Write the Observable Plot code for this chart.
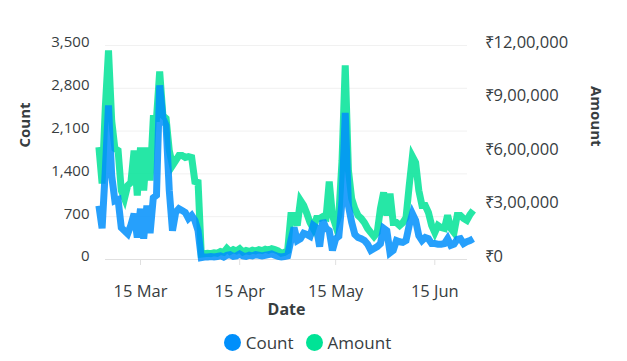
<!DOCTYPE html>
<html><head><meta charset="utf-8">
<script src="https://cdn.jsdelivr.net/npm/d3@7"></script>
<script src="https://cdn.jsdelivr.net/npm/@observablehq/plot@0.6"></script>
<style>
body{margin:0;background:#fff;font-family:"Open Sans",sans-serif;}
#legend{display:flex;justify-content:center;align-items:center;height:34px;font-size:17px;color:#373d3f;padding-right:12px;}
.item{display:flex;align-items:center;margin:0 6px;}
.dot{width:17px;height:17px;border-radius:50%;margin-right:5px;}
</style></head><body>
<div id="chart"></div>
<div id="legend"></div>
<script>
const startDate = "2020-03-02";
const countValues = [
  880, 510, 1460, 2520, 1370, 960, 980, 520, 470, 420,
  560, 750, 360, 830, 340, 880, 430, 1010, 1050, 2850,
  2310, 2190, 1130, 470, 770, 830, 800, 770, 670, 720,
  640, 470, 30, 40, 40, 50, 40, 50, 60, 40,
  70, 80, 50, 60, 90, 60, 50, 70, 60, 80,
  70, 60, 70, 80, 90, 70, 50, 40, 50, 60,
  310, 520, 310, 340, 430, 410, 380, 560, 520, 210,
  640, 510, 470, 150, 340, 380, 960, 2400, 880, 610,
  410, 360, 340, 310, 250, 150, 180, 210, 260, 510,
  470, 110, 150, 310, 290, 280, 310, 560, 750, 640,
  390, 310, 360, 340, 260, 260, 250, 250, 260, 340,
  230, 250, 330, 340, 260, 290, 310, 340
];
const amountValues = [
  630000, 426000, 852000, 1172000, 779000, 622000, 611000, 387000, 342000, 415000,
  432000, 611000, 359000, 628000, 387000, 628000, 443000, 791000, 791000, 1054000,
  807000, 791000, 611000, 527000, 555000, 583000, 583000, 572000, 577000, 572000,
  437000, 432000, 30000, 32000, 35000, 33000, 38000, 35000, 45000, 40000,
  62000, 45000, 55000, 48000, 60000, 42000, 50000, 45000, 52000, 48000,
  55000, 50000, 58000, 52000, 60000, 55000, 48000, 35000, 40000, 50000,
  247000, 247000, 191000, 331000, 303000, 258000, 207000, 174000, 230000, 230000,
  241000, 235000, 437000, 247000, 191000, 247000, 555000, 1088000, 499000, 342000,
  286000, 247000, 230000, 207000, 174000, 151000, 129000, 151000, 286000, 376000,
  247000, 370000, 207000, 207000, 191000, 207000, 235000, 415000, 578000, 544000,
  387000, 303000, 303000, 264000, 191000, 151000, 191000, 179000, 174000, 247000,
  174000, 151000, 247000, 247000, 230000, 219000, 252000, 275000
];
const countTicks = [0, 700, 1400, 2100, 2800, 3500];
const amountTicks = [0, 300000, 600000, 900000, 1200000];
const xTickDates = ["2020-03-15", "2020-04-15", "2020-05-15", "2020-06-15"];
const seriesNames = ["Count", "Amount"];
const seriesColors = ["#008FFB", "#00E396"];

const countMax = 3500, amountMax = 1200000;
const k = countMax / amountMax;

function indian(n) {
  const s = String(n);
  if (s.length <= 3) return s;
  const last3 = s.slice(-3);
  const rest = s.slice(0, -3).replace(/\B(?=(\d{2})+(?!\d))/g, ",");
  return rest + "," + last3;
}

const data = countValues.map((c, i) => ({
  date: d3.utcDay.offset(new Date(startDate), i),
  count: c,
  amount: amountValues[i]
}));

const W = 627, H = 325, baseY = 259;
const textColor = "#373d3f";

const chart = Plot.plot({
  width: W, height: H,
  marginLeft: 105, marginRight: 160, marginTop: 45, marginBottom: H - baseY,
  x: {type: "utc", domain: [data[0].date, data[data.length - 1].date], insetLeft: -6.6, insetRight: -5.7},
  y: {domain: [0, countMax]},
  style: {fontFamily: "'Open Sans', sans-serif", fontSize: "15px", color: textColor, background: "#fff"},
  marks: [
    Plot.gridY(countTicks.slice(1), {stroke: "#f1f1f1", strokeOpacity: 1}),
    Plot.ruleY([0], {stroke: "#e0e0e0"}),
    Plot.axisX(xTickDates.map(d => new Date(d)), {
      tickSize: 6, tickPadding: 20, stroke: "#e0e0e0", fill: textColor, fontSize: 16.5,
      tickFormat: d3.utcFormat("%d %b"), label: null
    }),
    Plot.axisY(countTicks, {
      anchor: "left", tickSize: 0, tickPadding: 16, dy: -3, fontSize: 15,
      tickFormat: d3.format(","), label: null, fill: textColor
    }),
    Plot.axisY(amountTicks.map(v => v * k), {
      anchor: "right", tickSize: 0, tickPadding: 17, dy: -3, fontSize: 16.5,
      tickFormat: v => "₹" + indian(Math.round(v / k / 1000) * 1000), label: null, fill: textColor
    }),
    Plot.line(data, {
      x: "date", y: d => d.amount * k, stroke: seriesColors[1], strokeWidth: 7,
      strokeOpacity: 0.85, strokeLinejoin: "miter", strokeLinecap: "butt", strokeMiterlimit: 4
    }),
    Plot.line(data, {
      x: "date", y: "count", stroke: seriesColors[0], strokeWidth: 7,
      strokeOpacity: 0.85, strokeLinejoin: "miter", strokeLinecap: "butt", strokeMiterlimit: 4
    }),
    Plot.text(["Count"], {frameAnchor: "left", rotate: -90, dx: -80, dy: -5, fontWeight: "bold", fontSize: 15, fill: textColor}),
    Plot.text(["Amount"], {frameAnchor: "right", rotate: 90, dx: 128, dy: -6, fontWeight: "bold", fontSize: 15, fill: textColor}),
    Plot.text(["Date"], {frameAnchor: "bottom", dy: 55, fontWeight: "bold", fontSize: 16, fill: textColor})
  ]
});
document.getElementById("chart").appendChild(chart);

const legend = document.getElementById("legend");
seriesNames.forEach((name, i) => {
  const item = document.createElement("div");
  item.className = "item";
  const dot = document.createElement("span");
  dot.className = "dot";
  dot.style.background = seriesColors[i];
  const label = document.createElement("span");
  label.textContent = name;
  item.appendChild(dot);
  item.appendChild(label);
  legend.appendChild(item);
});
</script>
</body></html>
